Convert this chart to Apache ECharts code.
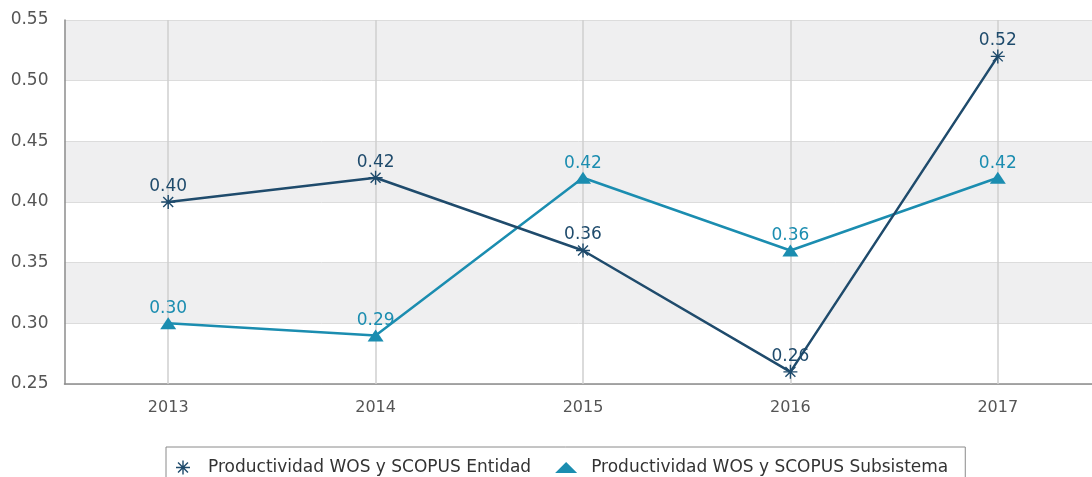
<!DOCTYPE html>
<html>
<head>
<meta charset="utf-8">
<script src="https://cdn.jsdelivr.net/npm/echarts@6/dist/echarts.min.js"></script>
<style>
  html, body { margin: 0; padding: 0; background: #fff; }
  #chart { width: 1092px; height: 477px; }
</style>
</head>
<body>
<div id="chart"></div>
<script>
var years = ["2013", "2014", "2015", "2016", "2017"];
var entidad = [0.40, 0.42, 0.36, 0.26, 0.52];
var subsistema = [0.30, 0.29, 0.42, 0.36, 0.42];
var seriesNames = ["Productividad WOS y SCOPUS Entidad", "Productividad WOS y SCOPUS Subsistema"];

var colorEnt = "#1f4b6c";
var colorSub = "#1b8db0";
var font = "DejaVu Sans";

// asterisco de 8 puntas
var asterisk = "path://M9 0H11V20H9Z M0 9H20V11H0Z M2.2 3.6L3.6 2.2L17.8 16.4L16.4 17.8Z M16.4 2.2L17.8 3.6L3.6 17.8L2.2 16.4Z";
var flatTriangle = "path://M9 0L18 9H0Z";

var chart = echarts.init(document.getElementById("chart"));
var option = {
  animation: false,
  textStyle: { fontFamily: font },
  grid: { left: 64.5, width: 1037, top: 20, bottom: 93, containLabel: false, outerBoundsMode: "none" },
  legend: {
    left: 166,
    top: 447,
    padding: [12, 17, 20, 10],
    borderColor: "#8a8a8a",
    borderWidth: 1,
    itemWidth: 22,
    itemHeight: 14,
    itemGap: 24,
    textStyle: { fontFamily: font, fontSize: 17, color: "#333", padding: [0, 0, 0, 9] },
    data: [
      { name: seriesNames[0], icon: asterisk, itemStyle: { color: colorEnt } },
      { name: seriesNames[1], icon: flatTriangle, itemStyle: { color: colorSub } }
    ]
  },
  xAxis: {
    type: "category",
    data: years,
    boundaryGap: true,
    axisLine: { lineStyle: { color: "#8c8c8c", width: 1.5 } },
    axisTick: { show: false },
    axisLabel: { color: "#555", fontSize: 16, margin: 16 },
    splitLine: { show: false }
  },
  yAxis: {
    type: "value",
    min: 0.25,
    max: 0.55,
    interval: 0.05,
    axisLine: { show: true, lineStyle: { color: "#8c8c8c", width: 1.5 } },
    axisTick: { show: false },
    axisLabel: {
      color: "#555",
      fontSize: 17,
      margin: 16,
      formatter: function (v) { return v.toFixed(2); }
    },
    splitLine: { show: true, lineStyle: { color: "#dcdcdc", width: 1 } },
    splitArea: { show: true, areaStyle: { color: ["#ffffff", "#efeff0"] } }
  },
  series: [
    {
      name: seriesNames[0],
      type: "line",
      data: entidad,
      color: colorEnt,
      symbol: asterisk,
      symbolSize: 14,
      lineStyle: { width: 2.5, color: colorEnt },
      itemStyle: { color: colorEnt },
      label: {
        show: true,
        position: "top",
        distance: 0,
        color: colorEnt,
        fontSize: 17,
        formatter: function (p) { return p.value.toFixed(2); }
      },
      z: 3
    },
    {
      name: seriesNames[1],
      type: "line",
      data: subsistema,
      color: colorSub,
      symbol: "triangle",
      symbolSize: [16, 12],
      lineStyle: { width: 2.5, color: colorSub },
      itemStyle: { color: colorSub },
      label: {
        show: true,
        position: "top",
        distance: 0,
        color: colorSub,
        fontSize: 17,
        formatter: function (p) { return p.value.toFixed(2); }
      },
      markLine: {
        silent: true,
        symbol: "none",
        label: { show: false },
        lineStyle: { color: "#cfcfcf", type: "solid", width: 1.5 },
        data: years.map(function (y) { return { xAxis: y }; }),
        z: 1
      },
      z: 2
    }
  ]
};
chart.setOption(option);
</script>
</body>
</html>
